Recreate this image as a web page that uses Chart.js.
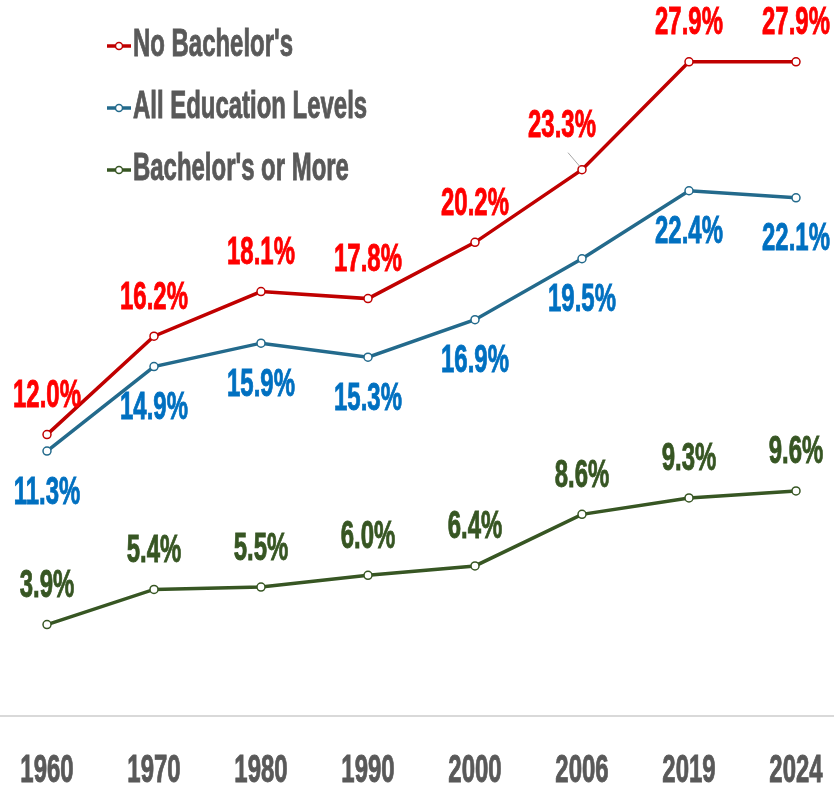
<!DOCTYPE html>
<html>
<head>
<meta charset="utf-8">
<script src="https://cdn.jsdelivr.net/npm/chart.js@4.4.1/dist/chart.umd.min.js"></script>
<style>
  html, body { margin: 0; padding: 0; background: #fff; }
  #wrap { width: 834px; height: 789px; }
</style>
</head>
<body>
<div id="wrap"><canvas id="chart" width="834" height="789"></canvas></div>
<script>
(() => {
'use strict';

const years = ['1960', '1970', '1980', '1990', '2000', '2006', '2019', '2024'];
const noBachelors = [12.0, 16.2, 18.1, 17.8, 20.2, 23.3, 27.9, 27.9];
const allLevels = [11.3, 14.9, 15.9, 15.3, 16.9, 19.5, 22.4, 22.1];
const bachelorsPlus = [3.9, 5.4, 5.5, 6.0, 6.4, 8.6, 9.3, 9.6];
const seriesNames = ["No Bachelor's", 'All Education Levels', "Bachelor's or More"];

const FONT = 'bold 38px "Liberation Sans", Arial, sans-serif';
const SQUEEZE = 0.63;
const GREY = '#595959';

// narrow bold text, drawn squeezed horizontally
function drawText(ctx, txt, x, y, color, align) {
    ctx.save();
    ctx.font = FONT;
    ctx.fillStyle = color;
    ctx.strokeStyle = color;
    ctx.lineWidth = 0.9;
    ctx.textBaseline = 'middle';
    ctx.textAlign = align || 'center';
    ctx.translate(x, y);
    ctx.scale(SQUEEZE, 1);
    ctx.fillText(txt, 0, 0);
    ctx.strokeText(txt, 0, 0);
    ctx.restore();
}

const extras = {
    id: 'extras',
    beforeDatasetsDraw(chart) {
        const { ctx, scales: { y } } = chart;
        const y0 = y.getPixelForValue(0);
        ctx.save();
        ctx.strokeStyle = '#d9d9d9';
        ctx.lineWidth = 2;
        ctx.beginPath();
        ctx.moveTo(0, y0);
        ctx.lineTo(chart.width, y0);
        ctx.stroke();
        ctx.restore();
    },
    afterDatasetsDraw(chart) {
        const { ctx, scales: { x } } = chart;
        // value labels
        chart.data.datasets.forEach((ds, di) => {
            const meta = chart.getDatasetMeta(di);
            meta.data.forEach((pt, i) => {
                let lx = pt.x, ly = ds.labelPos === 'below' ? pt.y + 42 : pt.y - 38;
                if (ds.shift && ds.shift[i]) {
                    const [dx, dy] = ds.shift[i];
                    ctx.save();
                    ctx.strokeStyle = '#a6a6a6';
                    ctx.lineWidth = 1;
                    ctx.beginPath();
                    ctx.moveTo(pt.x - 14, pt.y - 17);
                    ctx.lineTo(pt.x - 2, pt.y - 3);
                    ctx.stroke();
                    ctx.restore();
                    lx += dx; ly += dy;
                }
                drawText(ctx, ds.data[i].toFixed(1) + '%', lx, ly, ds.labelColor);
            });
        });
        // category labels
        const ty = chart.chartArea.bottom + 56;
        chart.data.labels.forEach((lab, i) => {
            drawText(ctx, lab, x.getPixelForValue(i), ty, GREY);
        });
        // legend
        chart.data.datasets.forEach((ds, di) => {
            const ly = 46 + di * 62;
            ctx.save();
            ctx.strokeStyle = ds.borderColor;
            ctx.lineWidth = 3.5;
            ctx.beginPath();
            ctx.moveTo(107, ly);
            ctx.lineTo(131, ly);
            ctx.stroke();
            ctx.fillStyle = '#fff';
            ctx.lineWidth = 1.5;
            ctx.beginPath();
            ctx.arc(119, ly, 3.5, 0, Math.PI * 2);
            ctx.fill();
            ctx.stroke();
            ctx.restore();
            drawText(ctx, ds.label, 133, ly, GREY, 'left');
        });
    }
};

const mk = (label, data, color, labelColor, labelPos, shift) => ({
    label, data,
    borderColor: color,
    backgroundColor: '#fff',
    borderWidth: 3.5,
    pointRadius: 4,
    pointBorderWidth: 1.5,
    pointBackgroundColor: '#fff',
    pointBorderColor: color,
    tension: 0,
    labelColor, labelPos, shift
});

new Chart(document.getElementById('chart').getContext('2d'), {
    type: 'line',
    data: {
        labels: years,
        datasets: [
            mk(seriesNames[0], noBachelors, '#c00000', '#ff0000', 'above', { 5: [-20, -5] }),
            mk(seriesNames[1], allLevels, '#236a8c', '#0070c0', 'below'),
            mk(seriesNames[2], bachelorsPlus, '#375623', '#375623', 'above')
        ]
    },
    options: {
        responsive: false,
        animation: false,
        layout: { padding: { left: 47, right: 38, top: 0, bottom: 73 } },
        plugins: { legend: { display: false }, tooltip: { enabled: false } },
        scales: {
            x: { display: false },
            y: { display: false, min: 0, max: 30.3 }
        }
    },
    plugins: [extras]
});
})();
</script>
</body>
</html>
